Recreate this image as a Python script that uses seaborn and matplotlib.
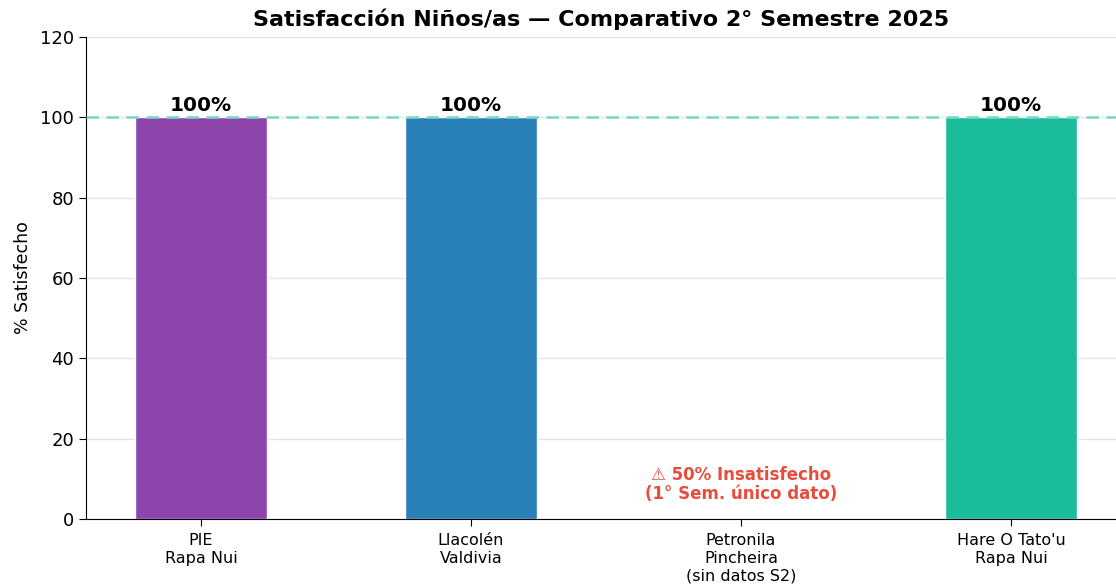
import seaborn as sns
import numpy as np
import pandas as pd
import matplotlib.pyplot as plt

# data
centros = ['PIE\nRapa Nui', 'Llacolén\nValdivia', 'Petronila\nPincheira\n(sin datos S2)', "Hare O Tato'u\nRapa Nui"]
satisfecho = [100, 100, np.nan, 100]
colores = ['#8E44AD', '#2980B9', '#95A5A6', '#1ABC9C']
nota_petronila = '⚠ 50% Insatisfecho\n(1° Sem. único dato)'

df = pd.DataFrame({'centro': centros, 'pct': satisfecho})

sns.set_style('white')
plt.rcParams['font.family'] = ['DejaVu Sans']
for k in ['text.color', 'axes.labelcolor', 'xtick.color', 'ytick.color', 'axes.edgecolor']:
    plt.rcParams[k] = 'black'

fig = plt.figure(figsize=(11.16, 5.86), dpi=100)
ax = fig.add_axes([86 / 1116, 67 / 586, 1030 / 1116, 482 / 586])

sns.barplot(data=df, x='centro', y='pct', hue='centro', palette=colores,
            width=0.49, saturation=1, edgecolor='white', linewidth=1,
            legend=False, ax=ax)

ax.axhline(100, color='#76D7C4', linestyle=(0, (5, 3)), linewidth=1.8, zorder=3)

for i, v in enumerate(satisfecho):
    if not np.isnan(v):
        ax.text(i, v + 0.5, f'{v:.0f}%', ha='center', va='bottom',
                fontsize=14.5, fontweight='bold', zorder=4)
ax.text(2, 4, nota_petronila, ha='center', va='bottom', fontsize=12,
        fontweight='bold', color='#E74C3C', linespacing=1.05)

ax.set_ylim(0, 120)
ax.set_xlim(-0.426, 3.389)
ax.set_yticks([0, 20, 40, 60, 80, 100, 120])
ax.yaxis.grid(True, color='#E5E5E5', linewidth=1)
ax.set_axisbelow(True)
ax.tick_params(axis='y', labelsize=13, left=True, length=5)
ax.tick_params(axis='x', labelsize=11.5, bottom=True, length=5, pad=5)
plt.setp(ax.get_xticklabels(), linespacing=1.25)
ax.set_xlabel('')
ax.set_ylabel('% Satisfecho', fontsize=12.5, labelpad=6)
ax.set_title('Satisfacción Niños/as — Comparativo 2° Semestre 2025',
             fontsize=16, fontweight='bold', pad=8)
sns.despine(ax=ax)

fig.savefig('out.png', dpi=100)
